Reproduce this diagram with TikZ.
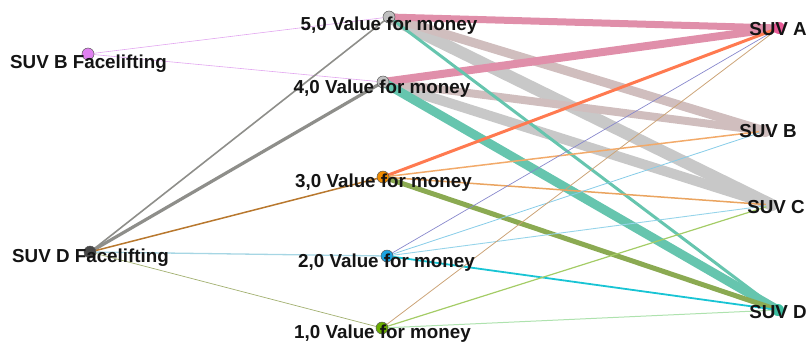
\documentclass[tikz,border=0pt]{standalone}
\usepackage{fontspec}
\setmainfont{Liberation Sans}
\begin{document}
\begin{tikzpicture}[x=1pt,y=-1pt,
  dot/.style={circle,draw=black!65,line width=0.5pt,minimum size=12pt,inner sep=0pt},
  lbl/.style={anchor=base,inner sep=0pt,font=\fontsize{18.8pt}{20pt}\selectfont\bfseries,text=black!92},
  edge/.style={line cap=butt}]
\useasboundingbox (0,0) rectangle (809,341);
\definecolor{cViolet}{HTML}{E2A6F0}
\definecolor{cGreyD}{HTML}{8E8E8A}
\definecolor{cBrown}{HTML}{B8782E}
\definecolor{cLBlue}{HTML}{A6D6E4}
\definecolor{cOlive}{HTML}{A2B070}
\definecolor{cPink}{HTML}{E08FAA}
\definecolor{cRosy}{HTML}{D0BEBE}
\definecolor{cGrey}{HTML}{C8C8C8}
\definecolor{cTeal}{HTML}{66C5AE}
\definecolor{cTomato}{HTML}{FF7A50}
\definecolor{cLOrange}{HTML}{F2AA6A}
\definecolor{cOrange}{HTML}{EAA460}
\definecolor{cOGreen}{HTML}{8BAA52}
\definecolor{cSlate}{HTML}{8888CC}
\definecolor{cSky}{HTML}{86CCE8}
\definecolor{cSky2}{HTML}{96D4EA}
\definecolor{cCyan}{HTML}{18C4D4}
\definecolor{cTan}{HTML}{CCA478}
\definecolor{cGreen}{HTML}{A4CC66}
\definecolor{cLGreen}{HTML}{AEE2AE}
% positions
\coordinate (sbf) at (88,54);
\coordinate (sdf) at (90,252);
\coordinate (v5) at (389,17);
\coordinate (v4) at (383,82);
\coordinate (v3) at (383,177);
\coordinate (v2) at (387,256);
\coordinate (v1) at (382,328);
\coordinate (sa) at (779,28);
\coordinate (sb) at (765,131);
\coordinate (sc) at (772,205);
\coordinate (sd) at (778,310);
% edges
\draw[edge,cViolet,line width=0.6] (sbf) -- (v5);
\draw[edge,cViolet,line width=0.6] (sbf) -- (v4);
\draw[edge,cGreyD,line width=1.6] (sdf) -- (v5);
\draw[edge,cGreyD,line width=3.2] (sdf) -- (v4);
\draw[edge,cBrown,line width=1.5] (sdf) -- (v3);
\draw[edge,cLBlue,line width=1.3] (sdf) -- (v2);
\draw[edge,cOlive,line width=0.7] (sdf) -- (v1);
\draw[edge,cGrey,line width=12] (v5) -- (sc);
\draw[edge,cGrey,line width=10] (v4) -- (sc);
\draw[edge,cRosy,line width=9] (v5) -- (sb);
\draw[edge,cRosy,line width=8] (v4) -- (sb);
\draw[edge,cPink,line width=7] (v5) -- (sa);
\draw[edge,cPink,line width=8] (v4) -- (sa);
\draw[edge,cTeal,line width=3] (v5) -- (sd);
\draw[edge,cTeal,line width=9] (v4) -- (sd);
\draw[edge,cTomato,line width=3] (v3) -- (sa);
\draw[edge,cLOrange,line width=1.5] (v3) -- (sb);
\draw[edge,cOrange,line width=1.5] (v3) -- (sc);
\draw[edge,cOGreen,line width=5] (v3) -- (sd);
\draw[edge,cSlate,line width=0.7] (v2) -- (sa);
\draw[edge,cSky,line width=0.8] (v2) -- (sb);
\draw[edge,cSky2,line width=0.9] (v2) -- (sc);
\draw[edge,cCyan,line width=1.8] (v2) -- (sd);
\draw[edge,cTan,line width=0.8] (v1) -- (sa);
\draw[edge,cGreen,line width=1.2] (v1) -- (sc);
\draw[edge,cLGreen,line width=1] (v1) -- (sd);
% dots
\node[dot,fill={rgb,255:red,224;green,128;blue,240}] (nsbf) at (sbf) {};
\node[dot,fill=black!72] (nsdf) at (sdf) {};
\node[dot,fill=black!25] (nv5) at (v5) {};
\node[dot,fill=black!25] (nv4) at (v4) {};
\node[dot,fill={rgb,255:red,240;green,140;blue,0}] (nv3) at (v3) {};
\node[dot,fill={rgb,255:red,28;green,164;blue,226}] (nv2) at (v2) {};
\node[dot,fill={rgb,255:red,106;green,173;blue,0}] (nv1) at (v1) {};
\node[dot,draw=none,fill={rgb,255:red,232;green,90;blue,150}] (nsa) at (sa) {};
\node[dot,draw=none,fill=cRosy] (nsb) at (sb) {};
\node[dot,draw=none,fill=cGrey] (nsc) at (sc) {};
\node[dot,draw=none,fill={rgb,255:red,60;green,190;blue,160}] (nsd) at (sd) {};
% labels
\node[lbl] (lsbf) at (88.5,68) {SUV B Facelifting};
\node[lbl] (lsdf) at (90.5,262) {SUV D Facelifting};
\node[lbl] (lv5) at (389,30) {5,0 Value for money};
\node[lbl] (lv4) at (382,93) {4,0 Value for money};
\node[lbl] (lv3) at (383.5,187) {3,0 Value for money};
\node[lbl] (lv2) at (386.5,267) {2,0 Value for money};
\node[lbl] (lv1) at (382.5,338) {1,0 Value for money};
\node[lbl] (lsa) at (778,35) {SUV A};
\node[lbl] (lsb) at (768,137) {SUV B};
\node[lbl] (lsc) at (776,213) {SUV C};
\node[lbl] (lsd) at (778,318) {SUV D};
\end{tikzpicture}
\end{document}
